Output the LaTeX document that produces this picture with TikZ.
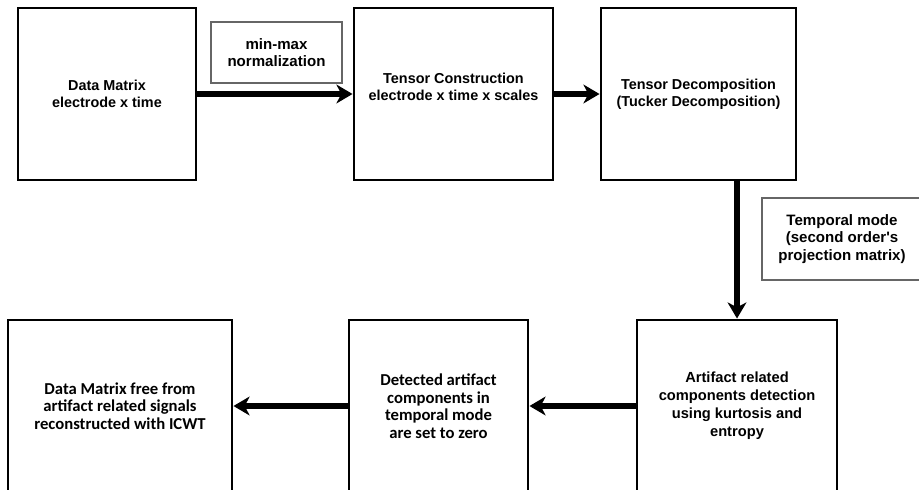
\documentclass[tikz,border=0pt]{standalone}
\usepackage{fontspec}
\setmainfont{Liberation Sans}
\newfontfamily\calibfont{Carlito}
\usetikzlibrary{arrows.meta}

\begin{document}
\begin{tikzpicture}[x=0.75pt, y=-0.75pt,
		boxsize/.style 2 args={minimum width=#1*0.75pt, minimum height=#2*0.75pt},
		blockbox/.style={draw, line width=2.2pt, align=center, inner sep=0pt, font=\bfseries\fontsize{10.8}{12.9}\selectfont},
		notebox/.style={draw=black!60, line width=0.9pt, align=center, inner sep=0pt, font=\bfseries\fontsize{11.3}{13}\selectfont},
		flow/.style={line width=4pt, -{Stealth[length=12pt, width=14pt, inset=3.5pt]}}]
			%%%%% START %%%%%
			
			\useasboundingbox (0, 0) rectangle (919, 489);
			\clip (0, 0) rectangle (919, 489);
			
			% top row
			\node[blockbox, boxsize={178}{172}] (datamat) at (107, 94) {Data Matrix\\electrode x time};
			\node[blockbox, boxsize={199}{172}] (tensorcon) at (453.5, 94) {Tensor Construction\\electrode x time x scales\\[-2pt]};
			\node[blockbox, boxsize={195}{172}] (tensordec) at (698.5, 94) {Tensor Decomposition\\(Tucker Decomposition)};
			
			% bottom row
			\node[blockbox, boxsize={200}{172}, font=\bfseries\fontsize{11}{13.5}\selectfont] (detect) at (737, 406) {Artifact related\\components detection\\using kurtosis and\\entropy};
			\node[blockbox, boxsize={179}{172}, font=\calibfont\bfseries\fontsize{12.5}{13.2}\selectfont] (zeroset) at (438.5, 406) {Detected artifact\\components in\\temporal mode\\are set to zero};
			\node[blockbox, boxsize={224}{172}, font=\calibfont\bfseries\fontsize{12.5}{13.2}\selectfont] (cleanmat) at (120, 406) {Data Matrix free from\\artifact related signals\\reconstructed with ICWT};
			
			% labels
			\node[notebox, boxsize={131}{61}] (normlabel) at (276.5, 52.5) {min-max\\normalization};
			\node[notebox, boxsize={160}{82}] (modelabel) at (842, 239) {Temporal mode\\(second order\textquotesingle s\\projection matrix)};
			
			% arrows
			\draw[flow] (datamat.east) -- (tensorcon.west);
			\draw[flow] (tensorcon.east) -- (tensordec.west);
			\draw[flow] (tensordec.south -| detect.north) -- (detect.north);
			\draw[flow] (detect.west) -- (zeroset.east);
			\draw[flow] (zeroset.west) -- (cleanmat.east);
			
			%%%%% END %%%%%
\end{tikzpicture}
\end{document}
